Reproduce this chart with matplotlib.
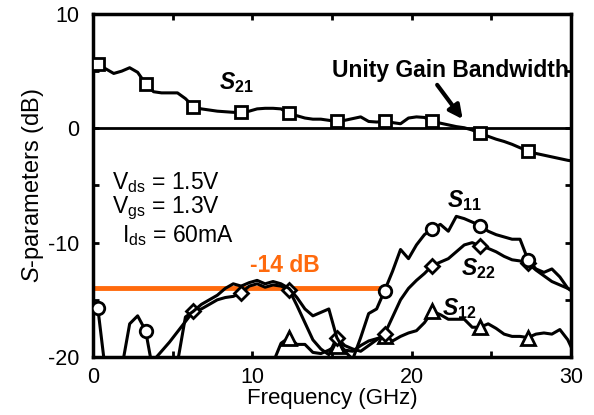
import numpy as np
import matplotlib
matplotlib.use('Agg')
import matplotlib.pyplot as plt

plt.rcParams['font.family'] = ['Liberation Sans', 'DejaVu Sans']
plt.rcParams['mathtext.fontset'] = 'custom'
plt.rcParams['mathtext.rm'] = 'Liberation Sans'
plt.rcParams['mathtext.it'] = 'Liberation Sans:italic'
plt.rcParams['mathtext.bf'] = 'Liberation Sans:bold'
plt.rcParams['mathtext.bfit'] = 'Liberation Sans:bold:italic'
plt.rcParams['axes.unicode_minus'] = False

# frequency grid (GHz), 0.5 GHz steps
freq = np.arange(61) * 0.5 + 0.3

s21 = [5.6, 5.2, 4.8, 5.0, 5.3, 4.9, 3.9, 3.2, 3.1, 3.1,
       3.1, 2.6, 1.9, 1.7, 1.6, 1.5, 1.45, 1.4, 1.4, 1.5,
       1.7, 1.75, 1.75, 1.7, 1.3, 1.1, 0.9, 0.8, 0.8, 0.7,
       0.6, 0.7, 0.85, 1.0, 0.6, 0.55, 0.6, 0.5, 0.4, 0.9,
       1.0, 0.95, 0.6, 0.45, 0.3, 0.15, 0.05, -0.15, -0.45, -0.7,
       -0.95, -1.15, -1.4, -1.7, -2.0, -2.2, -2.35, -2.5, -2.65, -2.8,
       -2.9]

s11 = [-15.7, -21.5, -23.0, -21.0, -17.1, -16.4, -17.7, -21.5, -23.0, -22.0,
       -20.5, -16.5, -16.0, -15.4, -15.0, -14.6, -14.0, -13.6, -13.8, -13.5,
       -13.3, -13.6, -13.4, -13.6, -14.0, -14.8, -15.8, -16.4, -16.1, -15.8,
       -18.3, -19.5, -20.2, -18.3, -16.2, -15.8, -14.2, -12.5, -10.6, -11.4,
       -10.2, -9.3, -8.8, -8.4, -9.0, -7.7, -7.9, -8.2, -8.5, -9.0,
       -9.3, -9.5, -9.7, -9.7, -11.5, -12.3, -12.6, -12.3, -13.0, -14.0,
       -14.5]

s22 = [-25.0, -25.0, -25.0, -25.0, -25.0, -24.0, -22.0, -20.3, -19.5, -18.7,
       -17.8, -16.9, -16.0, -15.8, -15.4, -15.0, -14.8, -14.7, -14.4, -13.8,
       -13.6, -13.9, -13.7, -13.8, -14.1, -15.5, -17.0, -18.5, -19.3, -19.8,
       -18.3, -19.0, -19.3, -19.5, -19.0, -18.5, -18.0, -16.5, -15.0, -14.0,
       -13.3, -12.7, -12.0, -11.7, -11.4, -10.8, -10.2, -10.0, -10.3, -10.5,
       -10.8, -11.2, -11.5, -11.6, -11.8, -12.4, -12.9, -13.4, -13.7, -14.0,
       -14.3]

s12 = [-25.0, -25.0, -25.0, -25.0, -25.0, -25.0, -25.0, -25.0, -25.0, -25.0,
       -25.0, -25.0, -25.0, -25.0, -25.0, -25.0, -25.0, -25.0, -25.0, -24.0,
       -23.0, -22.0, -20.5, -18.8, -18.3, -18.9, -18.9, -19.6, -19.7, -19.4,
       -19.0, -19.4, -19.5, -19.0, -18.6, -18.4, -18.2, -18.6, -18.2, -17.9,
       -17.7, -17.0, -16.0, -16.3, -16.7, -16.7, -16.7, -17.4, -17.4, -17.1,
       -17.5, -18.0, -18.2, -18.2, -18.3, -18.0, -17.9, -18.0, -17.6, -18.5,
       -20.0]

threshold_db = -14
threshold_end = 18.65

fig = plt.figure(figsize=(5.94, 4.15), dpi=100)
ax = fig.add_axes([0.1566, 0.1398, 0.8047, 0.8265])

ax.axhline(0, color='black', lw=2.0, zorder=1)
ax.plot([0, threshold_end], [threshold_db, threshold_db], color='#ff6a0d',
        lw=3.5, solid_capstyle='butt', zorder=2)
ax.text(12.05, -12.0, '%d dB' % threshold_db, color='#ff6a0d', fontsize=16.5,
        fontweight='bold', ha='center', va='center')

mk = dict(color='black', lw=2.2, mfc='white', mec='black', mew=2.0, zorder=3)
ax.plot(freq, s21, marker='s', ms=8.5, markevery=list(range(0, 60, 6)), **mk)
ax.plot(freq, s12, marker='^', ms=9.5, markevery=[24, 30, 36, 42, 48, 54], **mk)
ax.plot(freq, s22, marker='D', ms=7.5, markevery=[12, 18, 24, 30, 36, 42, 48, 54], **mk)
ax.plot(freq, s11, marker='o', ms=9, markevery=[0, 6, 36, 42, 48, 54], **mk)

# curve labels
ax.text(9.0, 4.0, r'$\mathbfit{S}_{\mathbf{21}}$', fontsize=16.5, ha='center', va='center')
ax.text(23.3, -6.3, r'$\mathbfit{S}_{\mathbf{11}}$', fontsize=16.5, ha='center', va='center')
ax.text(24.2, -12.3, r'$\mathbfit{S}_{\mathbf{22}}$', fontsize=16.5, ha='center', va='center')
ax.text(23.0, -15.8, r'$\mathbfit{S}_{\mathbf{12}}$', fontsize=16.5, ha='center', va='center')

ax.text(29.85, 5.1, 'Unity Gain Bandwidth', fontsize=16.5, fontweight='bold',
        ha='right', va='center')
ax.annotate('', xy=(23.2, 0.8), xytext=(21.6, 3.8),
            arrowprops=dict(arrowstyle='-|>', color='black', lw=3,
                            mutation_scale=20, shrinkA=0, shrinkB=0),
            zorder=4)

# bias conditions
ax.text(1.2, -4.7, r'V$_{\rm ds}$ = 1.5V', fontsize=16.5, ha='left', va='center')
ax.text(1.2, -7.0, r'V$_{\rm gs}$ = 1.3V', fontsize=16.5, ha='left', va='center')
ax.text(1.8, -9.35, r'I$_{\rm ds}$ = 60mA', fontsize=16.5, ha='left', va='center')

ax.set_xlim(0, 30)
ax.set_ylim(-20, 10)
ax.set_xticks([0, 10, 20, 30])
ax.set_yticks([-20, -10, 0, 10])
ax.set_xticks([5, 15, 25], minor=True)
ax.set_yticks([-15, -5, 5], minor=True)
ax.tick_params(which='both', direction='in', top=True, right=True,
               width=2, length=4, labelsize=15.5)
ax.tick_params(axis='x', pad=7)
ax.tick_params(axis='y', pad=10)
for s in ax.spines.values():
    s.set_linewidth(2.5)

ax.set_xlabel('Frequency (GHz)', fontsize=16, labelpad=0)
ax.set_ylabel(r'$\mathit{S}$-parameters (dB)', fontsize=17, labelpad=1)

fig.savefig('out.png', dpi=100)
